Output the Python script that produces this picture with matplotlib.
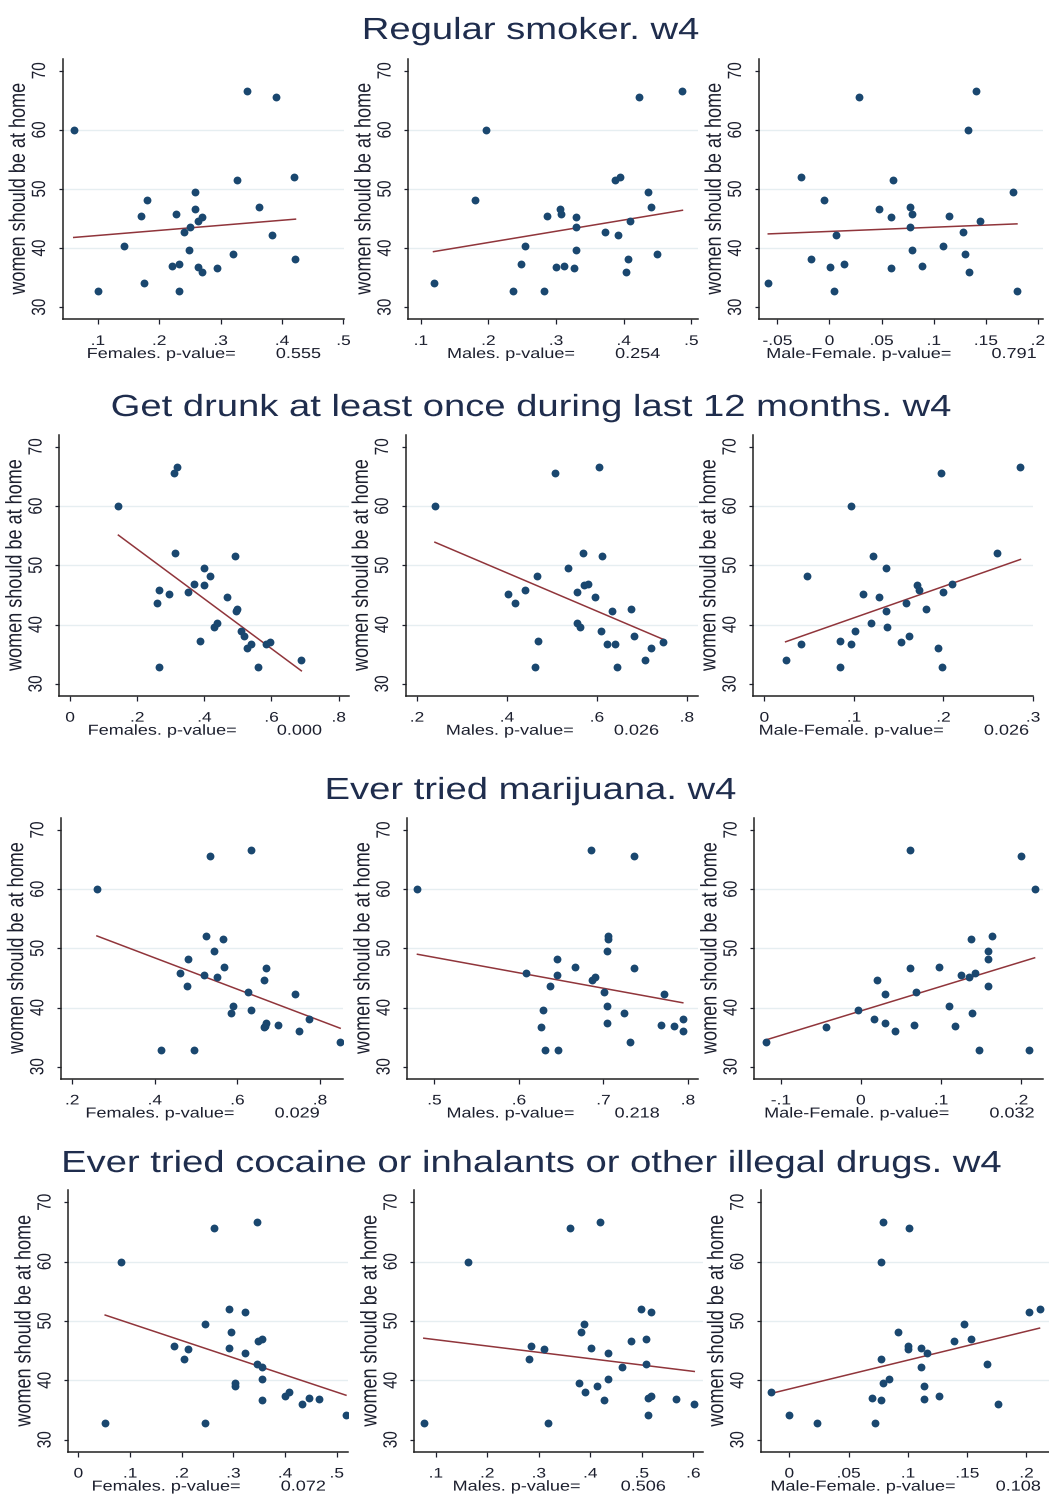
import numpy as np
import matplotlib
matplotlib.use("Agg")
import matplotlib.pyplot as plt
from matplotlib.patheffects import AbstractPathEffect
from matplotlib.transforms import Affine2D
from matplotlib.text import Text

plt.rcParams["font.family"] = ["Liberation Sans", "DejaVu Sans"]

# y: women should be at home (one value per country, same order in every panel)
home = [60.0, 32.8, 40.3, 45.5, 48.2, 34.1, 37.0, 37.3, 45.8, 32.8, 42.7, 39.6, 43.6, 49.5,
        46.6, 44.6, 45.2, 36.8, 36.0, 36.7, 39.0, 51.5, 66.6, 46.9, 65.6, 42.3, 52.1, 38.1]

smoke_f = [0.061, 0.100, 0.143, 0.171, 0.181, 0.175, 0.221, 0.232, 0.228, 0.232, 0.241, 0.248, 0.251, 0.258,
           0.258, 0.264, 0.270, 0.264, 0.270, 0.295, 0.321, 0.327, 0.343, 0.362, 0.391, 0.384, 0.419, 0.422]
smoke_m = [0.197, 0.237, 0.254, 0.287, 0.180, 0.119, 0.312, 0.248, 0.308, 0.283, 0.372, 0.329, 0.329, 0.436,
           0.306, 0.410, 0.329, 0.300, 0.403, 0.326, 0.450, 0.387, 0.487, 0.441, 0.423, 0.392, 0.395, 0.406]
smoke_mf = [0.133, 0.0045, 0.109, 0.1147, -0.0048, -0.0587, 0.0888, 0.0138, 0.0795, 0.180, 0.128, 0.079, 0.077, 0.176,
            0.0474, 0.145, 0.059, 0.001, 0.134, 0.059, 0.130, 0.0606, 0.141, 0.0769, 0.0288, 0.006, -0.0269, -0.0176]

drunk_f = [0.144, 0.265, 0.439, 0.352, 0.417, 0.689, 0.595, 0.387, 0.264, 0.559, 0.497, 0.428, 0.258, 0.398,
           0.399, 0.468, 0.294, 0.583, 0.528, 0.538, 0.508, 0.490, 0.318, 0.369, 0.311, 0.494, 0.312, 0.519]
drunk_m = [0.240, 0.462, 0.557, 0.557, 0.466, 0.708, 0.748, 0.469, 0.440, 0.644, 0.677, 0.562, 0.418, 0.535,
           0.572, 0.595, 0.403, 0.640, 0.721, 0.623, 0.609, 0.612, 0.604, 0.580, 0.508, 0.634, 0.570, 0.682]
drunk_mf = [0.097, 0.084, 0.119, 0.199, 0.0476, 0.0238, 0.153, 0.084, 0.173, 0.198, 0.180, 0.137, 0.158, 0.136,
            0.170, 0.128, 0.110, 0.097, 0.194, 0.041, 0.101, 0.121, 0.286, 0.210, 0.197, 0.136, 0.260, 0.161]

mari_f = [0.260, 0.416, 0.590, 0.520, 0.481, 0.849, 0.698, 0.670, 0.462, 0.495, 0.627, 0.632, 0.477, 0.543,
          0.669, 0.665, 0.552, 0.667, 0.750, 0.665, 0.584, 0.566, 0.632, 0.567, 0.534, 0.740, 0.523, 0.773]
mari_m = [0.480, 0.631, 0.704, 0.645, 0.645, 0.732, 0.768, 0.704, 0.608, 0.646, 0.701, 0.628, 0.637, 0.704,
          0.736, 0.687, 0.690, 0.784, 0.794, 0.626, 0.724, 0.706, 0.685, 0.666, 0.736, 0.772, 0.706, 0.794]
mari_mf = [0.217, 0.147, 0.110, 0.125, 0.159, -0.119, 0.067, 0.030, 0.142, 0.210, 0.069, -0.004, 0.159, 0.159,
           0.061, 0.020, 0.135, 0.118, 0.0425, -0.044, 0.139, 0.138, 0.061, 0.098, 0.200, 0.030, 0.164, 0.017]

drugs_f = [0.082, 0.052, 0.356, 0.292, 0.296, 0.518, 0.447, 0.400, 0.186, 0.246, 0.345, 0.303, 0.205, 0.245,
           0.348, 0.322, 0.213, 0.466, 0.432, 0.356, 0.303, 0.322, 0.345, 0.356, 0.262, 0.356, 0.292, 0.408]
drugs_m = [0.163, 0.077, 0.435, 0.402, 0.382, 0.512, 0.512, 0.519, 0.285, 0.318, 0.508, 0.378, 0.281, 0.387,
           0.480, 0.435, 0.311, 0.567, 0.602, 0.427, 0.413, 0.518, 0.420, 0.508, 0.360, 0.461, 0.499, 0.389]
drugs_mf = [0.077, 0.023, 0.084, 0.1115, 0.092, 0.000, 0.070, 0.126, 0.100, 0.072, 0.167, 0.079, 0.077, 0.147,
            0.139, 0.116, 0.100, 0.1135, 0.176, 0.077, 0.1135, 0.202, 0.079, 0.153, 0.101, 0.1115, 0.211, -0.0152]

# fitted line value at the lowest and highest x of each panel
fit_smoke = [(41.8, 44.9), (39.4, 46.4), (42.4, 44.1)]
fit_drunk = [(55.1, 32.2), (53.9, 37.5), (37.1, 51.0)]
fit_mari = [(52.1, 36.5), (49.0, 40.8), (34.5, 48.4)]
fit_drugs = [(51.0, 37.5), (47.1, 41.5), (37.8, 48.8)]

titles = ["Regular smoker. w4",
          "Get drunk at least once during last 12 months. w4",
          "Ever tried marijuana. w4",
          "Ever tried cocaine or inhalants or other illegal drugs. w4"]
groups = ["Females", "Males", "Male-Female"]
pvalues = [["0.555", "0.254", "0.791"],
           ["0.000", "0.026", "0.026"],
           ["0.029", "0.218", "0.032"],
           ["0.072", "0.506", "0.108"]]
xtick_vals = [[[.1, .2, .3, .4, .5], [.1, .2, .3, .4, .5], [-.05, 0, .05, .1, .15, .2]],
              [[0, .2, .4, .6, .8], [.2, .4, .6, .8], [0, .1, .2, .3]],
              [[.2, .4, .6, .8], [.5, .6, .7, .8], [-.1, 0, .1, .2]],
              [[0, .1, .2, .3, .4, .5], [.1, .2, .3, .4, .5, .6], [0, .05, .1, .15, .2]]]
ytick_vals = [30, 40, 50, 60, 70]
grid_vals = [40, 50, 60]

xdata = [[smoke_f, smoke_m, smoke_mf],
         [drunk_f, drunk_m, drunk_mf],
         [mari_f, mari_m, mari_mf],
         [drugs_f, drugs_m, drugs_mf]]
fits = [fit_smoke, fit_drunk, fit_mari, fit_drugs]

NAVY = "#1a476f"
MAROON = "#90353b"
INK = "#1c1f2e"
TITLE = "#1f2d4d"
GRID = "#e6eef1"


class Widen(AbstractPathEffect):
    # the source picture was stretched sideways, so stretch glyphs the same way
    def __init__(self, sx=1.25):
        super().__init__()
        self.sx = sx

    def draw_path(self, renderer, gc, tpath, affine, rgbFace=None):
        if len(tpath.vertices) == 0:
            return
        pts = affine.transform(tpath.vertices)
        cx = (pts[:, 0].min() + pts[:, 0].max()) / 2
        st = Affine2D().translate(-cx, 0).scale(self.sx, 1).translate(cx, 0)
        renderer.draw_path(gc, tpath, affine + st, rgbFace)


def stata_fmt(v):
    if v == 0:
        return "0"
    s = f"{v:g}"
    return s.replace("-0.", "-.").replace("0.", ".", 1) if s.startswith(("0.", "-0.")) else s


W, H = 1049, 1498
fig = plt.figure(figsize=(W / 100, H / 100), dpi=100)

rows_px = [(59, 319), (435, 695.7), (818.2, 1078.5), (1190.4, 1451.6)]
cols_px = [[(62.7, 344), (408.3, 698), (758.7, 1043)],
           [(59.3, 349), (405.7, 698), (753.3, 1033)],
           [(61, 343), (407.3, 698), (754.3, 1043)],
           [(68.3, 348), (414.3, 703), (761, 1049)]]
xlims = [[(0.043, 0.501), (0.0817, 0.510), (-0.0679, 0.205)],
         [(-0.032, 0.831), (0.175, 0.825), (-0.0123, 0.3)],
         [(0.173, 0.856), (0.468, 0.812), (-0.133, 0.2275)],
         [(-0.0194, 0.522), (0.0585, 0.619), (-0.0238, 0.219)]]
title_y = [31, 408, 791, 1164]

y = np.array(home)
for r in range(4):
    top, bot = rows_px[r]
    fig.text(530 / W, 1 - title_y[r] / H, titles[r], ha="center", va="center",
             fontsize=22, color=TITLE)
    for c in range(3):
        left, right = cols_px[r][c]
        aw, ah = right - left, bot - top
        ax = fig.add_axes([left / W, 1 - bot / H, aw / W, ah / H])
        x = np.array(xdata[r][c])

        for g in grid_vals:
            ax.axhline(g, color=GRID, lw=1, zorder=0)
        ax.plot([x.min(), x.max()], fits[r][c], color=MAROON, lw=1.1, zorder=2)
        ax.scatter(x, y, s=32, color=NAVY, linewidths=0, zorder=3)

        ax.set_xlim(*xlims[r][c])
        ax.set_ylim(28, 72)
        for side in ["top", "right"]:
            ax.spines[side].set_visible(False)
        for side in ["left", "bottom"]:
            ax.spines[side].set_linewidth(1.1)
            ax.spines[side].set_color("#222222")

        ax.set_xticks(xtick_vals[r][c])
        ax.set_xticklabels([stata_fmt(v) for v in xtick_vals[r][c]])
        ax.set_yticks(ytick_vals)
        ax.set_yticklabels([str(v) for v in ytick_vals])
        ax.tick_params(axis="x", length=3.6, width=0.9, pad=12.2, labelsize=10,
                       colors=INK)
        ax.tick_params(axis="y", length=2.9, width=0.9, pad=13.7, labelsize=11,
                       colors=INK, labelrotation=90)
        for t in ax.xaxis.get_major_ticks():
            t.label1.set_va("center")
        for t in ax.yaxis.get_major_ticks():
            t.label1.set_ha("center")
            t.label1.set_va("center")

        ax.text(-44 / aw, 0.5, "women should be at home", transform=ax.transAxes,
                rotation=90, ha="center", va="center", fontsize=13, color=INK)
        ax.text(0.5, -35 / ah, f"{groups[c]}. p-value=        {pvalues[r][c]}",
                transform=ax.transAxes, ha="center", va="center", fontsize=10.4,
                color=INK)

for t in fig.findobj(Text):
    t.set_path_effects([Widen(1.25)])

fig.savefig("out.png", dpi=100)
